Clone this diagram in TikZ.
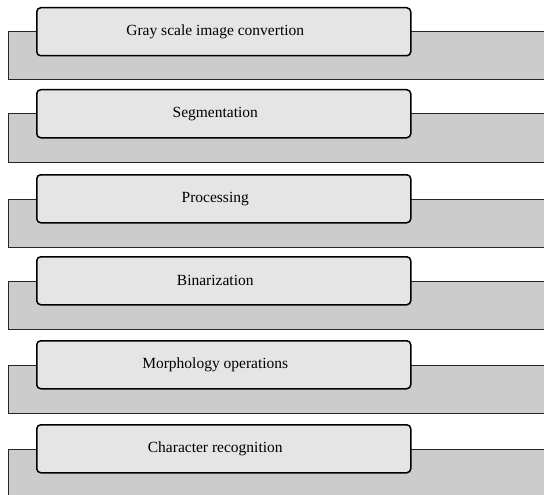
\documentclass[tikz,border=0pt]{standalone}
\usepackage{fontspec}
\setmainfont{Liberation Serif}
\definecolor{boxgray}{RGB}{229,229,229}
\definecolor{shelfgray}{RGB}{204,204,204}
\tikzset{
  stage/.style={draw, line width=1.5pt, rounded corners=4pt, fill=boxgray, minimum width=374pt, minimum height=48pt, inner sep=0pt, anchor=north west},
  stagetext/.style={xshift=-8.5pt, font=\fontsize{15.5}{18}\selectfont},
  shelf/.style={draw=black!85, line width=1pt, fill=shelfgray}
}
\begin{document}
\begin{tikzpicture}[x=1pt, y=-1pt]
\useasboundingbox (0,0) rectangle (544,495);
\clip (0,0) rectangle (544,495);
\foreach \t/\name [count=\i] in {7/Gray scale image convertion, 89/Segmentation, 174/Processing, 256/Binarization, 340/Morphology operations, 424/Character recognition}{
	\draw[shelf] (8,\t+25) rectangle (560,\t+73);
	\node[stage, label={[stagetext]center:\name}] (stage\i) at (36,\t) {};
}
\end{tikzpicture}
\end{document}
